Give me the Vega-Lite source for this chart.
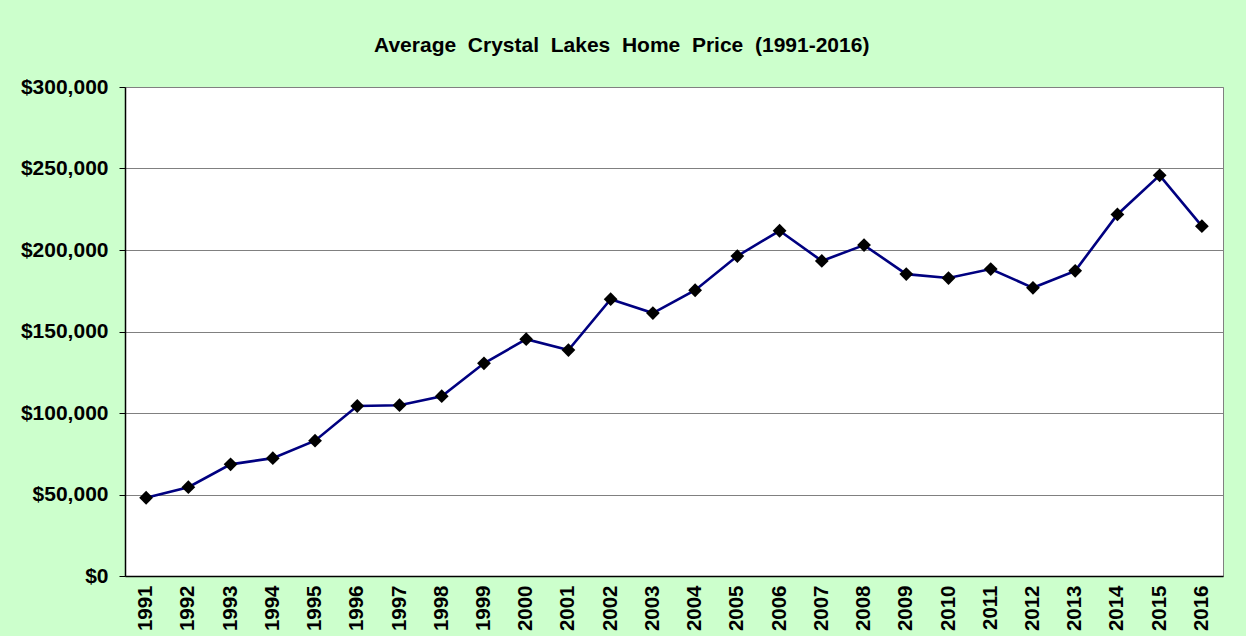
{
  "$schema": "https://vega.github.io/schema/vega-lite/v6.json",
  "width": 1098,
  "height": 489,
  "autosize": "none",
  "padding": {"left": 125, "top": 87, "right": 23, "bottom": 60},
  "background": "#CCFFCC",
  "title": {
    "text": "Average \u00a0Crystal \u00a0Lakes \u00a0Home \u00a0Price \u00a0(1991-2016)",
    "anchor": "middle",
    "frame": "bounds",
    "font": "Liberation Sans",
    "fontSize": 21,
    "fontWeight": "bold",
    "color": "#000000",
    "offset": 20
  },
  "config": {
    "view": {"fill": "#FFFFFF", "stroke": "#808080", "strokeWidth": 1},
    "font": "Liberation Sans"
  },
  "data": {
    "values": [
      {"year": "1991", "price": 48000},
      {"year": "1992", "price": 54500},
      {"year": "1993", "price": 68500},
      {"year": "1994", "price": 72300},
      {"year": "1995", "price": 83000},
      {"year": "1996", "price": 104300},
      {"year": "1997", "price": 104800},
      {"year": "1998", "price": 110300},
      {"year": "1999", "price": 130500},
      {"year": "2000", "price": 145300},
      {"year": "2001", "price": 138600},
      {"year": "2002", "price": 169800},
      {"year": "2003", "price": 161300},
      {"year": "2004", "price": 175300},
      {"year": "2005", "price": 196300},
      {"year": "2006", "price": 211800},
      {"year": "2007", "price": 193300},
      {"year": "2008", "price": 203000},
      {"year": "2009", "price": 185200},
      {"year": "2010", "price": 182800},
      {"year": "2011", "price": 188300},
      {"year": "2012", "price": 176800},
      {"year": "2013", "price": 187200},
      {"year": "2014", "price": 221800},
      {"year": "2015", "price": 245800},
      {"year": "2016", "price": 214600}
    ]
  },
  "encoding": {
    "x": {
      "field": "year",
      "type": "ordinal",
      "scale": {"type": "band", "paddingInner": 0, "paddingOuter": 0},
      "axis": {
        "title": null,
        "labelAngle": -90,
        "labelAlign": "right",
        "labelBaseline": "middle",
        "labelFont": "Liberation Sans",
        "labelFontSize": 20.5,
        "labelFontWeight": "bold",
        "labelColor": "#000000",
        "labelPadding": 9,
        "ticks": false,
        "domainColor": "#000000",
        "domainWidth": 1.5,
        "grid": false
      }
    },
    "y": {
      "field": "price",
      "type": "quantitative",
      "scale": {"domain": [0, 300000], "nice": false},
      "axis": {
        "title": null,
        "values": [0, 50000, 100000, 150000, 200000, 250000, 300000],
        "format": "$,.0f",
        "labelFont": "Liberation Sans",
        "labelFontSize": 21,
        "labelFontWeight": "bold",
        "labelColor": "#000000",
        "labelPadding": 11,
        "tickSize": 6,
        "tickColor": "#000000",
        "domainColor": "#000000",
        "domainWidth": 1.5,
        "grid": true,
        "gridColor": "#808080",
        "gridWidth": 1
      }
    }
  },
  "layer": [
    {"mark": {"type": "line", "color": "#000080", "strokeWidth": 2.6}},
    {"mark": {"type": "point", "shape": "diamond", "filled": true, "color": "#000000", "opacity": 1, "size": 190}}
  ]
}
